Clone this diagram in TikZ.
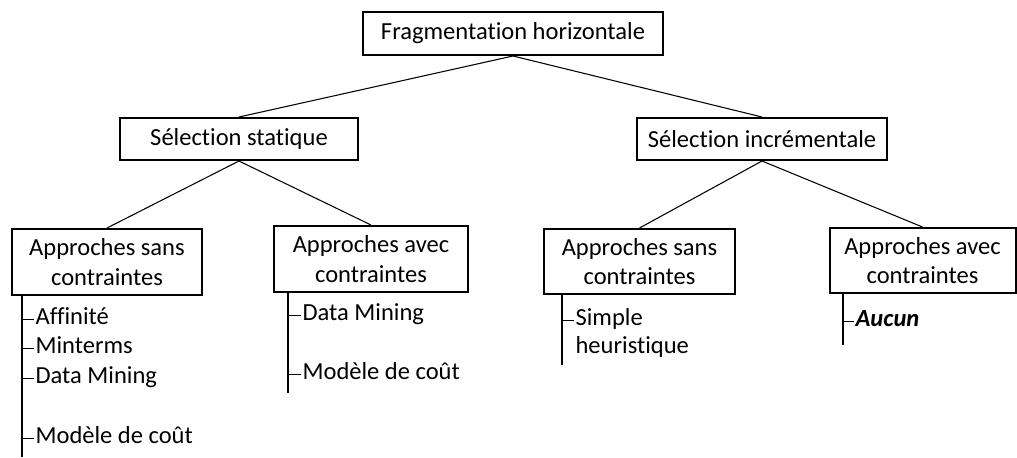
\documentclass[tikz,border=0pt]{standalone}
\usepackage{fontspec}
\setmainfont{Carlito}[Ligatures=NoCommon]
\begin{document}
\begin{tikzpicture}[x=0.75pt,y=-0.75pt,
	box/.style={draw,line width=1.5pt,align=center,inner sep=0pt,font=\fontsize{18.4}{22}\selectfont},
	item/.style={anchor=west,inner sep=1pt,text height=12pt,text depth=3.5pt,font=\fontsize{18.4}{22}\selectfont},
	link/.style={line width=0.8pt},
	stem/.style={line width=1pt}]
	\useasboundingbox (0,0) rectangle (1017,457);
	
	\node[box,minimum width=225pt,minimum height=32.25pt] (frag) at (513,33.5) {Fragmentation horizontale};
	\node[box,minimum width=178.5pt,minimum height=31.5pt] (stat) at (239,139) {Sélection statique};
	\node[box,minimum width=187.5pt,minimum height=31.5pt] (incr) at (762,139) {Sélection incrémentale};
	
	\node[box,minimum width=142.5pt,minimum height=49.5pt] (sans1) at (107,262) {Approches sans\\contraintes};
	\node[box,minimum width=145.5pt,minimum height=49.5pt] (avec1) at (371,259) {Approches avec\\contraintes};
	\node[box,minimum width=143.25pt,minimum height=48.75pt] (sans2) at (639.5,261.5) {Approches sans\\contraintes};
	\node[box,minimum width=139.5pt,minimum height=48.75pt] (avec2) at (922.5,260.5) {Approches avec\\contraintes};
	
	\draw[link] (frag.south) -- (stat.north);
	\draw[link] (frag.south) -- (incr.north);
	\draw[link] (stat.south) -- (sans1.north);
	\draw[link] (stat.south) -- (avec1.north);
	\draw[link] (incr.south) -- (sans2.north);
	\draw[link] (incr.south) -- (avec2.north);
	
	% approches sans contraintes (statique)
	\coordinate (s1) at (22,457);
	\node[item] (aff) at (34,319) {Affinité};
	\node[item] (mint) at (34,348) {Minterms};
	\node[item] (dm1) at (34,378) {Data Mining};
	\node[item] (cout1) at (34,438) {Modèle de coût};
	\draw[stem] (sans1.south -| s1) -- (s1);
	\draw (aff.west -| s1) -- (aff.west);
	\draw (mint.west -| s1) -- (mint.west);
	\draw (dm1.west -| s1) -- (dm1.west);
	\draw (cout1.west -| s1) -- (cout1.west);
	
	% approches avec contraintes (statique)
	\coordinate (s2) at (288,393);
	\node[item] (dm2) at (301,315) {Data Mining};
	\node[item] (cout2) at (301,374) {Modèle de coût};
	\draw[stem] (avec1.south -| s2) -- (s2);
	\draw (dm2.west -| s2) -- (dm2.west);
	\draw (cout2.west -| s2) -- (cout2.west);
	
	% approches sans contraintes (incrementale)
	\coordinate (s3) at (562,365);
	\node[item] (simp) at (574,320) {Simple};
	\node[item] (heur) at (574,348) {heuristique};
	\draw[stem] (sans2.south -| s3) -- (s3);
	\draw (simp.west -| s3) -- (simp.west);
	
	% approches avec contraintes (incrementale)
	\coordinate (s4) at (843,345);
	\node[item] (auc) at (854,321) {\textbf{\textit{Aucun}}};
	\draw[stem] (avec2.south -| s4) -- (s4);
	\draw (auc.west -| s4) -- (auc.west);
\end{tikzpicture}
\end{document}
